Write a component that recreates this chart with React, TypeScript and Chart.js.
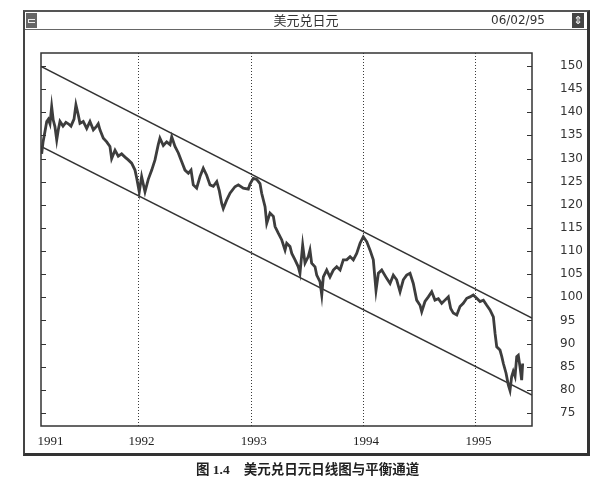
import React, { useEffect, useRef } from "react";
import { Chart, registerables } from "chart.js";

Chart.register(...registerables);

// ---- data (decimal years, USD/JPY) ----
const years = [
  1991.138, 1991.150, 1991.167, 1991.183, 1991.197, 1991.212, 1991.227, 1991.241, 1991.256, 1991.272,
  1991.286, 1991.301, 1991.328, 1991.354, 1991.375, 1991.399, 1991.426, 1991.443, 1991.464, 1991.479,
  1991.508, 1991.539, 1991.568, 1991.598, 1991.628, 1991.642, 1991.657, 1991.687, 1991.717, 1991.746,
  1991.761, 1991.791, 1991.820, 1991.850, 1991.880, 1991.909, 1991.939, 1991.969, 1991.984, 1992.007,
  1992.028, 1992.058, 1992.087, 1992.118, 1992.147, 1992.176, 1992.191, 1992.221, 1992.251, 1992.281,
  1992.296, 1992.325, 1992.355, 1992.385, 1992.414, 1992.444, 1992.468, 1992.488, 1992.518, 1992.548,
  1992.577, 1992.607, 1992.637, 1992.666, 1992.697, 1992.720, 1992.741, 1992.755, 1992.785, 1992.815,
  1992.859, 1992.889, 1992.933, 1992.978, 1992.993, 1993.022, 1993.052, 1993.082, 1993.097, 1993.127,
  1993.142, 1993.171, 1993.201, 1993.216, 1993.246, 1993.276, 1993.305, 1993.320, 1993.349, 1993.365,
  1993.394, 1993.423, 1993.438, 1993.462, 1993.483, 1993.512, 1993.527, 1993.542, 1993.572, 1993.587,
  1993.616, 1993.632, 1993.646, 1993.676, 1993.705, 1993.735, 1993.765, 1993.795, 1993.824, 1993.854,
  1993.884, 1993.913, 1993.943, 1993.973, 1994.002, 1994.033, 1994.062, 1994.091, 1994.115, 1994.136,
  1994.166, 1994.210, 1994.240, 1994.269, 1994.299, 1994.329, 1994.358, 1994.388, 1994.418, 1994.447,
  1994.477, 1994.507, 1994.522, 1994.551, 1994.581, 1994.611, 1994.640, 1994.670, 1994.700, 1994.729,
  1994.759, 1994.780, 1994.803, 1994.834, 1994.863, 1994.892, 1994.923, 1994.952, 1994.981, 1995.012,
  1995.041, 1995.071, 1995.101, 1995.130, 1995.160, 1995.175, 1995.190, 1995.219, 1995.235, 1995.249,
  1995.273, 1995.293, 1995.308, 1995.323, 1995.337, 1995.353, 1995.368, 1995.382, 1995.397, 1995.412,
  1995.421,
];
const prices = [
  131.0, 133.5, 135.8, 138.0, 138.5, 137.5, 141.2, 138.3, 136.9, 134.0,
  136.2, 138.0, 137.0, 137.8, 137.5, 137.0, 138.5, 141.6, 139.4, 137.6,
  138.0, 136.5, 138.0, 136.2, 137.0, 137.5, 136.2, 134.4, 133.6, 132.6,
  130.0, 131.8, 130.5, 131.0, 130.3, 129.7, 129.0, 127.5, 125.8, 122.8,
  126.1, 122.8, 125.5, 127.5, 129.7, 133.0, 134.4, 132.8, 133.6, 133.0,
  134.7, 132.6, 131.2, 129.3, 127.5, 126.8, 127.5, 124.3, 123.6, 126.1,
  127.9, 126.4, 124.3, 124.0, 125.0, 123.0, 120.3, 119.2, 121.0, 122.5,
  123.9, 124.3, 123.6, 123.4, 124.5, 125.7, 125.5, 124.6, 122.5, 119.6,
  116.0, 118.2, 117.5, 115.3, 113.8, 112.4, 110.2, 111.7, 111.0, 109.5,
  108.1, 106.6, 105.2, 111.3, 107.4, 108.8, 110.2, 107.4, 106.6, 104.8,
  103.4, 100.5, 104.4, 105.9, 104.4, 105.9, 106.6, 105.9, 108.1, 108.1,
  108.8, 108.1, 109.5, 111.7, 113.1, 112.0, 110.2, 108.1, 101.5, 105.2,
  105.9, 104.1, 103.0, 104.8, 103.8, 101.2, 103.8, 104.8, 105.2, 103.0,
  99.4, 98.3, 96.9, 99.1, 100.1, 101.2, 99.4, 99.7, 98.7, 99.4,
  100.1, 97.6, 96.6, 96.2, 98.0, 98.7, 99.8, 100.1, 100.5, 99.8,
  99.1, 99.4, 98.3, 97.3, 95.8, 92.2, 89.3, 88.6, 87.2, 85.7,
  83.6, 81.1, 79.9, 82.9, 84.0, 82.9, 87.2, 87.5, 85.0, 82.1,
  85.7,
];

const channelYears = [1991.132, 1995.504];
const upperChannel = [149.9, 95.5];
const lowerChannel = [132.6, 78.9];

const xTickValues = [1991.19, 1992, 1993, 1994, 1995];
const xTickLabels = ["1991", "1992", "1993", "1994", "1995"];
const gridYears = [1992, 1993, 1994, 1995];
const yTickValues = [75, 80, 85, 90, 95, 100, 105, 110, 115, 120, 125, 130, 135, 140, 145, 150];

const X_MIN = 1991.132;
const X_MAX = 1995.504;
const Y_MIN = 72.2;
const Y_MAX = 152.8;

const titleText = "美元兑日元";
const dateText = "06/02/95";
const captionNo = "图 1.4";
const captionText = "美元兑日元日线图与平衡通道";

const framePlugin = {
  id: "framePlugin",
  beforeDatasetsDraw(chart: any) {
    const { ctx, chartArea, scales } = chart;
    const xs = scales.x;
    ctx.save();
    ctx.strokeStyle = "#3a3a3a";
    ctx.lineWidth = 1;
    ctx.setLineDash([1, 2]);
    gridYears.forEach((yr) => {
      const px = Math.round(xs.getPixelForValue(yr)) + 0.5;
      ctx.beginPath();
      ctx.moveTo(px, chartArea.top);
      ctx.lineTo(px, chartArea.bottom);
      ctx.stroke();
    });
    ctx.restore();
  },
  afterDraw(chart: any) {
    const { ctx, chartArea, scales } = chart;
    const ys = scales.y;
    ctx.save();
    ctx.strokeStyle = "#333";
    ctx.lineWidth = 1.5;
    ctx.strokeRect(chartArea.left, chartArea.top, chartArea.right - chartArea.left, chartArea.bottom - chartArea.top);
    ctx.lineWidth = 1;
    yTickValues.forEach((v) => {
      const py = Math.round(ys.getPixelForValue(v)) + 0.5;
      ctx.beginPath();
      ctx.moveTo(chartArea.left, py);
      ctx.lineTo(chartArea.left + 5, py);
      ctx.moveTo(chartArea.right - 5, py);
      ctx.lineTo(chartArea.right, py);
      ctx.stroke();
    });
    ctx.restore();
  },
};

export default function App() {
  const canvasRef = useRef<HTMLCanvasElement | null>(null);

  useEffect(() => {
    const canvas = canvasRef.current;
    if (!canvas) return;
    const chart = new Chart(canvas, {
      type: "line",
      data: {
        datasets: [
          {
            label: "USD/JPY",
            data: years.map((x, i) => ({ x, y: prices[i] })),
            borderColor: "#3d3d3d",
            borderWidth: 2.8,
            borderJoinStyle: "miter",
            pointRadius: 0,
            tension: 0,
          },
          {
            label: "upper",
            data: channelYears.map((x, i) => ({ x, y: upperChannel[i] })),
            borderColor: "#333",
            borderWidth: 1.5,
            pointRadius: 0,
          },
          {
            label: "lower",
            data: channelYears.map((x, i) => ({ x, y: lowerChannel[i] })),
            borderColor: "#333",
            borderWidth: 1.5,
            pointRadius: 0,
          },
        ],
      },
      options: {
        animation: false,
        responsive: false,
        devicePixelRatio: 1,
        layout: { padding: { left: 41, top: 53, right: 30, bottom: 30 } },
        plugins: { legend: { display: false }, tooltip: { enabled: false } },
        scales: {
          x: {
            type: "linear",
            min: X_MIN,
            max: X_MAX,
            afterBuildTicks: (scale: any) => {
              scale.ticks = xTickValues.map((v) => ({ value: v }));
            },
            afterFit: (scale: any) => {
              scale.height = 30;
            },
            grid: { display: false, drawTicks: false },
            border: { display: false },
            ticks: {
              autoSkip: false,
              maxRotation: 0,
              padding: 8,
              labelOffset: 3,
              color: "#222",
              font: { family: "'Liberation Serif', serif", size: 13 },
              callback: (_v: any, i: number) => xTickLabels[i],
            },
          },
          y: {
            type: "linear",
            position: "right",
            min: Y_MIN,
            max: Y_MAX,
            afterBuildTicks: (scale: any) => {
              scale.ticks = yTickValues.map((v) => ({ value: v }));
            },
            afterFit: (scale: any) => {
              scale.width = 50;
            },
            grid: { display: false, drawTicks: false },
            border: { display: false },
            ticks: {
              padding: 28,
              color: "#333",
              font: { family: "'DejaVu Sans', sans-serif", size: 12 },
              callback: (v: any) => String(v),
            },
          },
        },
      },
      plugins: [framePlugin],
    });
    return () => chart.destroy();
  }, []);

  return (
    <div style={{ position: "absolute", left: 0, top: 0, width: 612, height: 486, background: "#fff", overflow: "hidden" }}>
      <canvas ref={canvasRef} width={612} height={486} style={{ position: "absolute", left: 0, top: 0, width: 612, height: 486 }} />
      {/* window frame */}
      <div
        style={{
          position: "absolute",
          left: 23,
          top: 10,
          width: 567,
          height: 446,
          boxSizing: "border-box",
          borderTop: "2px solid #555",
          borderLeft: "2px solid #444",
          borderRight: "3px solid #333",
          borderBottom: "3px solid #333",
          pointerEvents: "none",
        }}
      />
      {/* title bar */}
      <div
        style={{
          position: "absolute",
          left: 25,
          top: 12,
          width: 562,
          height: 18,
          boxSizing: "border-box",
          borderBottom: "1px solid #666",
        }}
      />
      <div style={{ position: "absolute", left: 26, top: 13, width: 11, height: 15, background: "#666" }}>
        <div style={{ position: "absolute", left: 2, top: 6, width: 6, height: 2, border: "1px solid #eee", borderRight: "none" }} />
      </div>
      <div
        style={{
          position: "absolute",
          left: 0,
          width: 612,
          top: 11,
          textAlign: "center",
          fontFamily: "'Noto Sans CJK SC', sans-serif",
          fontSize: 13,
          lineHeight: "18px",
          color: "#333",
        }}
      >
        {titleText}
      </div>
      <div
        style={{
          position: "absolute",
          left: 491,
          top: 12,
          fontFamily: "'DejaVu Sans', sans-serif",
          fontSize: 12,
          lineHeight: "17px",
          color: "#333",
        }}
      >
        {dateText}
      </div>
      <div
        style={{
          position: "absolute",
          left: 572,
          top: 13,
          width: 12,
          height: 15,
          background: "#444",
          color: "#fff",
          fontSize: 11,
          lineHeight: "15px",
          textAlign: "center",
          fontFamily: "'DejaVu Sans', sans-serif",
        }}
      >
        ⇕
      </div>
      {/* caption */}
      <div
        style={{
          position: "absolute",
          left: 196,
          top: 459,
          whiteSpace: "nowrap",
          fontFamily: "'Noto Sans CJK SC', sans-serif",
          fontWeight: 700,
          fontSize: 13.5,
          lineHeight: "18px",
          color: "#222",
        }}
      >
        <span style={{ fontFamily: "'Liberation Serif', 'Noto Sans CJK SC', serif", fontWeight: 700 }}>{captionNo}</span>
        <span style={{ marginLeft: 14 }}>{captionText}</span>
      </div>
    </div>
  );
}
